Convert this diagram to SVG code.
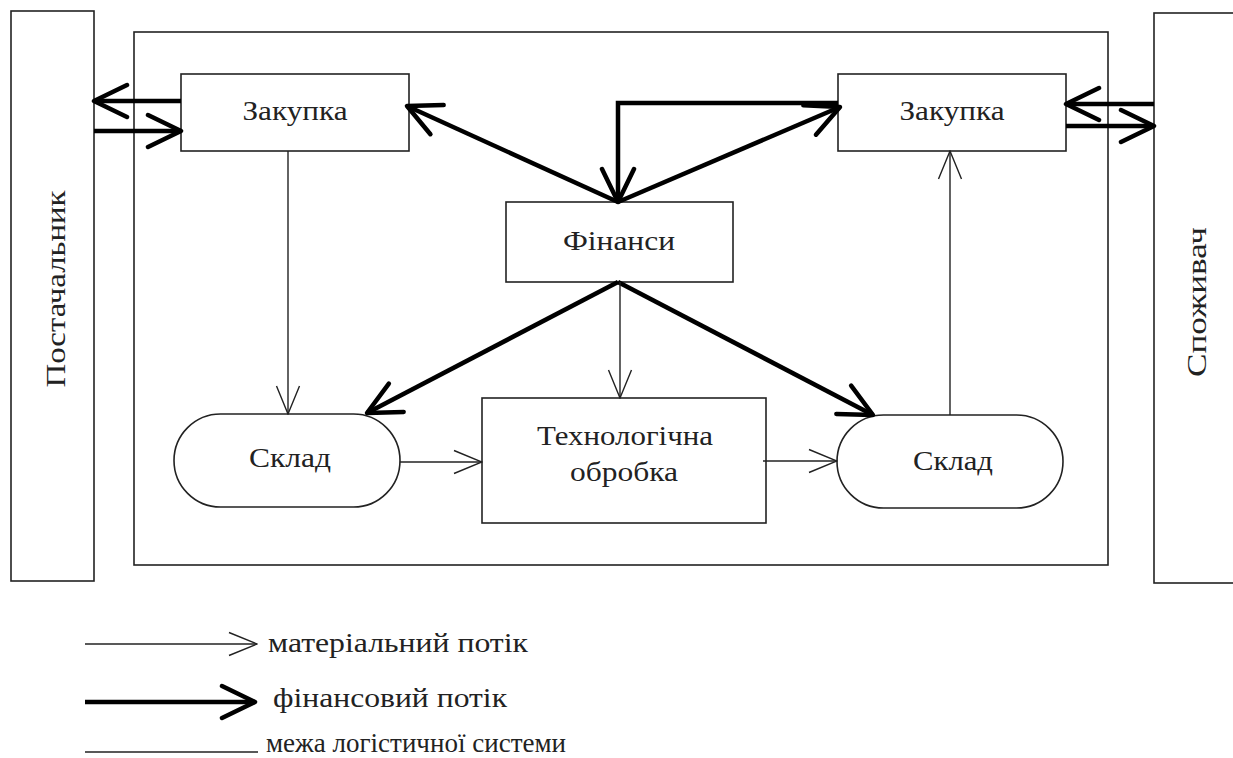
<svg xmlns="http://www.w3.org/2000/svg" width="1233" height="758" viewBox="0 0 1233 758">
<style>
.box{fill:#fff;stroke:#222;stroke-width:1.6}
.bnd{fill:none;stroke:#222;stroke-width:1.6}
.t{font-family:"Liberation Serif","DejaVu Serif","Times New Roman",serif;font-size:28px;fill:#222;text-anchor:middle}
.lt{font-family:"Liberation Serif","DejaVu Serif","Times New Roman",serif;font-size:28px;fill:#222}
.thin{fill:none;stroke:#222;stroke-width:1.4;marker-end:url(#ah)}
.thick{fill:none;stroke:#000;stroke-width:4.5;marker-end:url(#AH)}
</style>
<defs>
<marker id="ah" markerUnits="userSpaceOnUse" viewBox="0 0 30 26" refX="29" refY="13" markerWidth="30" markerHeight="26" orient="auto">
<path d="M1,1.5 L29,13 L1,24.5" fill="none" stroke="#222" stroke-width="1.4"/>
</marker>
<marker id="AH" markerUnits="userSpaceOnUse" viewBox="0 0 40 40" refX="37" refY="20" markerWidth="40" markerHeight="40" orient="auto">
<path d="M4,4 L37,20 L4,36" fill="none" stroke="#000" stroke-width="4.5" stroke-linecap="round" stroke-linejoin="round"/>
</marker>
</defs>
<rect width="1233" height="758" fill="#fff"/>

<g id="boundary"><rect class="bnd" x="134" y="32" width="974" height="533"/></g>

<g id="supplier">
<rect class="box" x="11" y="11" width="83" height="570"/>
<text class="t" transform="translate(65,289) rotate(-90)" textLength="197" lengthAdjust="spacingAndGlyphs">Постачальник</text>
</g>
<g id="consumer">
<rect class="box" x="1154" y="13" width="90" height="570"/>
<text class="t" transform="translate(1206,302) rotate(-90)" textLength="150" lengthAdjust="spacingAndGlyphs">Споживач</text>
</g>

<g id="purchase-left">
<rect class="box" x="181" y="74" width="228" height="77"/>
<text class="t" x="295" y="120" textLength="105" lengthAdjust="spacingAndGlyphs">Закупка</text>
</g>
<g id="purchase-right">
<rect class="box" x="838" y="74" width="228" height="77"/>
<text class="t" x="952" y="120" textLength="105" lengthAdjust="spacingAndGlyphs">Закупка</text>
</g>
<g id="finance">
<rect class="box" x="506" y="202" width="227" height="80"/>
<text class="t" x="619" y="250" textLength="112" lengthAdjust="spacingAndGlyphs">Фінанси</text>
</g>
<g id="warehouse-left">
<rect class="box" x="174" y="414" width="226" height="93" rx="46.5" ry="46.5"/>
<text class="t" x="290" y="467" textLength="82" lengthAdjust="spacingAndGlyphs">Склад</text>
</g>
<g id="processing">
<rect class="box" x="482" y="398" width="284" height="125"/>
<text class="t" x="625" y="445" textLength="176" lengthAdjust="spacingAndGlyphs">Технологічна</text>
<text class="t" x="624" y="481" textLength="108" lengthAdjust="spacingAndGlyphs">обробка</text>
</g>
<g id="warehouse-right">
<rect class="box" x="837" y="415" width="226" height="93" rx="46.5" ry="46.5"/>
<text class="t" x="953" y="470" textLength="80" lengthAdjust="spacingAndGlyphs">Склад</text>
</g>

<g id="connectors">
<line class="thick" x1="181" y1="101" x2="94" y2="101"/>
<line class="thick" x1="94" y1="131" x2="181" y2="131"/>
<line class="thick" x1="1154" y1="104" x2="1066" y2="104"/>
<line class="thick" x1="1066" y1="126" x2="1154" y2="126"/>
<line class="thick" x1="618" y1="202" x2="407" y2="106"/>
<polyline class="thick" points="838,103 618,103 618,202"/>
<line class="thick" x1="618" y1="202" x2="840" y2="107"/>
<line class="thick" x1="618" y1="282" x2="367" y2="413"/>
<line class="thick" x1="618" y1="282" x2="873" y2="415"/>
<line class="thin" x1="288" y1="151" x2="288" y2="414"/>
<line class="thin" x1="620" y1="282" x2="620" y2="398"/>
<line class="thin" x1="400" y1="462" x2="482" y2="462"/>
<line class="thin" x1="763" y1="461" x2="837" y2="461"/>
<line class="thin" x1="950" y1="415" x2="950" y2="151"/>
</g>

<g id="legend">
<line class="thin" x1="85" y1="644" x2="257" y2="644"/>
<text class="lt" x="268" y="652" textLength="260" lengthAdjust="spacingAndGlyphs">матеріальний потік</text>
<line class="thick" x1="85" y1="702" x2="255" y2="702"/>
<text class="lt" x="273" y="707" textLength="234" lengthAdjust="spacingAndGlyphs">фінансовий потік</text>
<line x1="85" y1="752" x2="258" y2="752" stroke="#222" stroke-width="1.4"/>
<text class="lt" x="266" y="752" textLength="300" lengthAdjust="spacingAndGlyphs">межа логістичної системи</text>
</g>
</svg>
